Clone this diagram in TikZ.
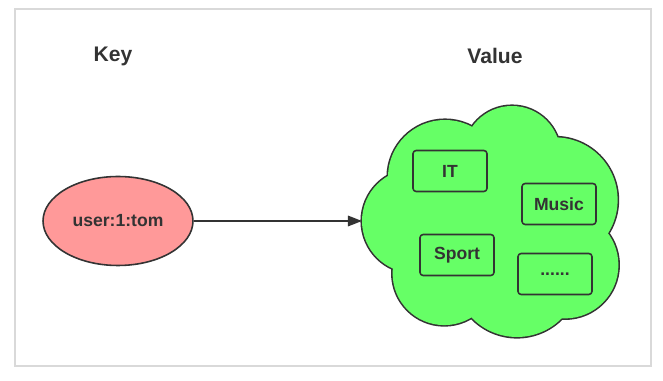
\documentclass[tikz,border=0pt]{standalone}
\usepackage{fontspec}
\setmainfont{Liberation Sans}
\usetikzlibrary{arrows.meta,shapes.geometric}

\definecolor{keyred}{HTML}{FF9999}
\definecolor{valgreen}{HTML}{66FF66}
\definecolor{ink}{HTML}{333333}
\definecolor{framegray}{HTML}{D9D9D9}

\tikzset{
    heading/.style={text=ink, font=\fontsize{12}{14}\selectfont\bfseries},
    keynode/.style={ellipse, draw=ink, line width=0.9pt, fill=keyred,
        minimum width=3cm, minimum height=1.78cm, text=ink,
        font=\fontsize{10}{12}\selectfont\bfseries},
    item/.style={draw=ink, line width=0.9pt, rounded corners=1.8pt,
        minimum width=1.48cm, minimum height=0.82cm, text=ink,
        font=\fontsize{10}{12}\selectfont\bfseries},
}

\begin{document}
\begin{tikzpicture}[x=0.02cm, y=-0.02cm]
    \useasboundingbox (0,0) rectangle (663,381);
    \draw[framegray, line width=0.6pt] (15,9) rectangle (651,366);

    \node[heading] (keytitle) at (113,56) {Key};
    \node[heading] (valtitle) at (495,56) {Value};

    % the value cloud: union of lobes, outline first, then the fill on top
    \foreach \cx/\cy/\r in {414/221/52, 445/177/57, 512/154.5/48.5, 555/200/62.6,
                            565/265/53.4, 517/274.2/62.8, 444.3/273.4/51.7}
        \draw[ink, line width=1.8pt, fill=valgreen] (\cx,\cy) circle (\r);
    \foreach \cx/\cy/\r in {414/221/52, 445/177/57, 512/154.5/48.5, 555/200/62.6,
                            565/265/53.4, 517/274.2/62.8, 444.3/273.4/51.7}
        \fill[valgreen] (\cx,\cy) circle (\r);
    \fill[valgreen] (414,221) -- (445,177) -- (512,154.5) -- (555,200)
        -- (565,265) -- (517,274.2) -- (444.3,273.4) -- cycle;
    \coordinate (cloudwest) at (362,221);

    \node[keynode] (key) at (118,221) {user:1:tom};

    \node[item] (it) at (450,171) {IT};
    \node[item] (music) at (559,204) {Music};
    \node[item] (sport) at (457,255) {Sport};
    \node[item] (more) at (555,274) {......};

    \draw[ink, line width=0.9pt, -{Triangle[length=8pt,width=6pt]}] (key) -- (cloudwest);
\end{tikzpicture}
\end{document}
